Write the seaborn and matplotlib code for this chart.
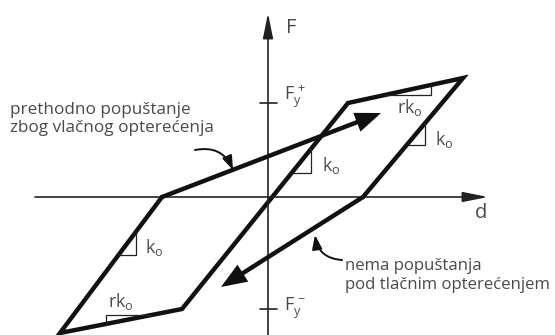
import matplotlib
matplotlib.use('Agg')
import matplotlib.pyplot as plt
import seaborn as sns

# histerezna petlja (d, F) - ishodiste u sjecistu osi
loop_d = [-10.6, -20.8, -8.6, 8.0, 19.5, 9.5]
loop_F = [0.0, -13.6, -11.2, 9.4, 11.9, 0.0]

# grane sa strelicama (pocetak -> vrh strelice)
branch_start = [(-10.6, 0.0), (9.5, 0.0)]
branch_end = [(11.3, 8.4), (-4.7, -9.0)]

# trokuti nagiba: vrh pravog kuta, segment petlje, oznaka i njen polozaj
tri_corner = [(4.3, 2.4), (15.7, 5.2), (16.3, 10.2), (-13.2, -5.8), (-16.2, -11.8)]
tri_seg = [2, 4, 3, 0, 1]
tri_text = [r'$\mathrm{k_o}$', r'$\mathrm{k_o}$', r'$\mathrm{rk_o}$', r'$\mathrm{k_o}$', r'$\mathrm{rk_o}$']
tri_text_pos = [(5.4, 3.1), (16.7, 5.7), (12.9, 8.9), (-12.3, -5.1), (-16.0, -10.5)]

# granice popustanja
fy_plus = loop_F[3]
fy_minus = loop_F[2]

sns.set_theme(style='white')
plt.rcParams['font.family'] = ['Open Sans', 'DejaVu Sans']
plt.rcParams['mathtext.fontset'] = 'custom'
plt.rcParams['mathtext.rm'] = 'Open Sans'
plt.rcParams['mathtext.it'] = 'Open Sans'
plt.rcParams['lines.solid_joinstyle'] = 'miter'

txt = '#4a4a4a'
fig = plt.figure(figsize=(5.55, 3.35), dpi=100)
ax = fig.add_axes([0, 0, 1, 1])
ax.set_xlim(-26.8, 28.7)
ax.set_ylim(-13.8, 19.7)
ax.axis('off')

# osi
ax.annotate('', xy=(22.0, 0), xytext=(-23.3, 0),
            arrowprops=dict(arrowstyle='-|>,head_length=1.1,head_width=0.22',
                            mutation_scale=14, lw=1.2, color='#222', shrinkA=0, shrinkB=0))
ax.annotate('', xy=(0, 18.4), xytext=(0, -13.8),
            arrowprops=dict(arrowstyle='-|>,head_length=1.1,head_width=0.22',
                            mutation_scale=14, lw=1.2, color='#222', shrinkA=0, shrinkB=0))
ax.text(1.8, 16.9, 'F', fontsize=14.5, color=txt, va='center')
ax.text(20.7, -1.6, 'd', fontsize=14.5, color=txt, va='center')

# oznake F_y
for fy in [fy_plus, fy_minus]:
    ax.plot([-0.8, 0.9], [fy, fy], color='#222', lw=1.2)
ax.text(1.6, fy_plus + 0.6, r'$\mathrm{F_y^{\,+}}$', fontsize=13, color=txt, va='center')
ax.text(1.6, fy_minus + 0.1, r'$\mathrm{F_y^{\,-}}$', fontsize=13, color=txt, va='center')

# petlja
sns.lineplot(x=loop_d, y=loop_F, sort=False, estimator=None, color='#111', lw=3.2, ax=ax)

# grane sa strelicama
for s, e in zip(branch_start, branch_end):
    ax.annotate('', xy=e, xytext=s,
                arrowprops=dict(arrowstyle='-|>,head_length=0.9,head_width=0.35',
                                mutation_scale=14, lw=3.2, color='#111',
                                shrinkA=0, shrinkB=0, joinstyle='miter'))

# trokuti nagiba
for (cd, cF), k, lab, (lx, ly) in zip(tri_corner, tri_seg, tri_text, tri_text_pos):
    d1, d2 = loop_d[k], loop_d[k + 1]
    f1, f2 = loop_F[k], loop_F[k + 1]
    slope = (f2 - f1) / (d2 - d1)
    d_on = d1 + (cF - f1) / slope
    f_on = f1 + (cd - d1) * slope
    ax.plot([d_on, cd, cd], [cF, cF, f_on], color='#222', lw=0.9)
    ax.text(lx, ly, lab, fontsize=13, color=txt, va='center')

# tekstovi sa zakrivljenim strelicama
ax.text(-25.8, 7.8, 'prethodno popuštanje\nzbog vlačnog opterećenja',
        fontsize=12.3, color=txt, va='center', linespacing=1.25)
ax.annotate('', xy=(-3.5, 2.7), xytext=(-7.3, 4.7),
            arrowprops=dict(arrowstyle='-|>,head_length=0.7,head_width=0.25',
                            mutation_scale=12, lw=1.4, color='#111',
                            connectionstyle='arc3,rad=-0.4', shrinkA=0, shrinkB=0))
ax.text(7.7, -7.85, 'nema popuštanja\npod tlačnim opterećenjem',
        fontsize=12.1, color=txt, va='center', linespacing=1.25)
ax.annotate('', xy=(4.7, -3.8), xytext=(7.4, -6.3),
            arrowprops=dict(arrowstyle='-|>,head_length=0.7,head_width=0.25',
                            mutation_scale=12, lw=1.4, color='#111',
                            connectionstyle='arc3,rad=-0.4', shrinkA=0, shrinkB=0))

fig.savefig('out.png', dpi=100)
